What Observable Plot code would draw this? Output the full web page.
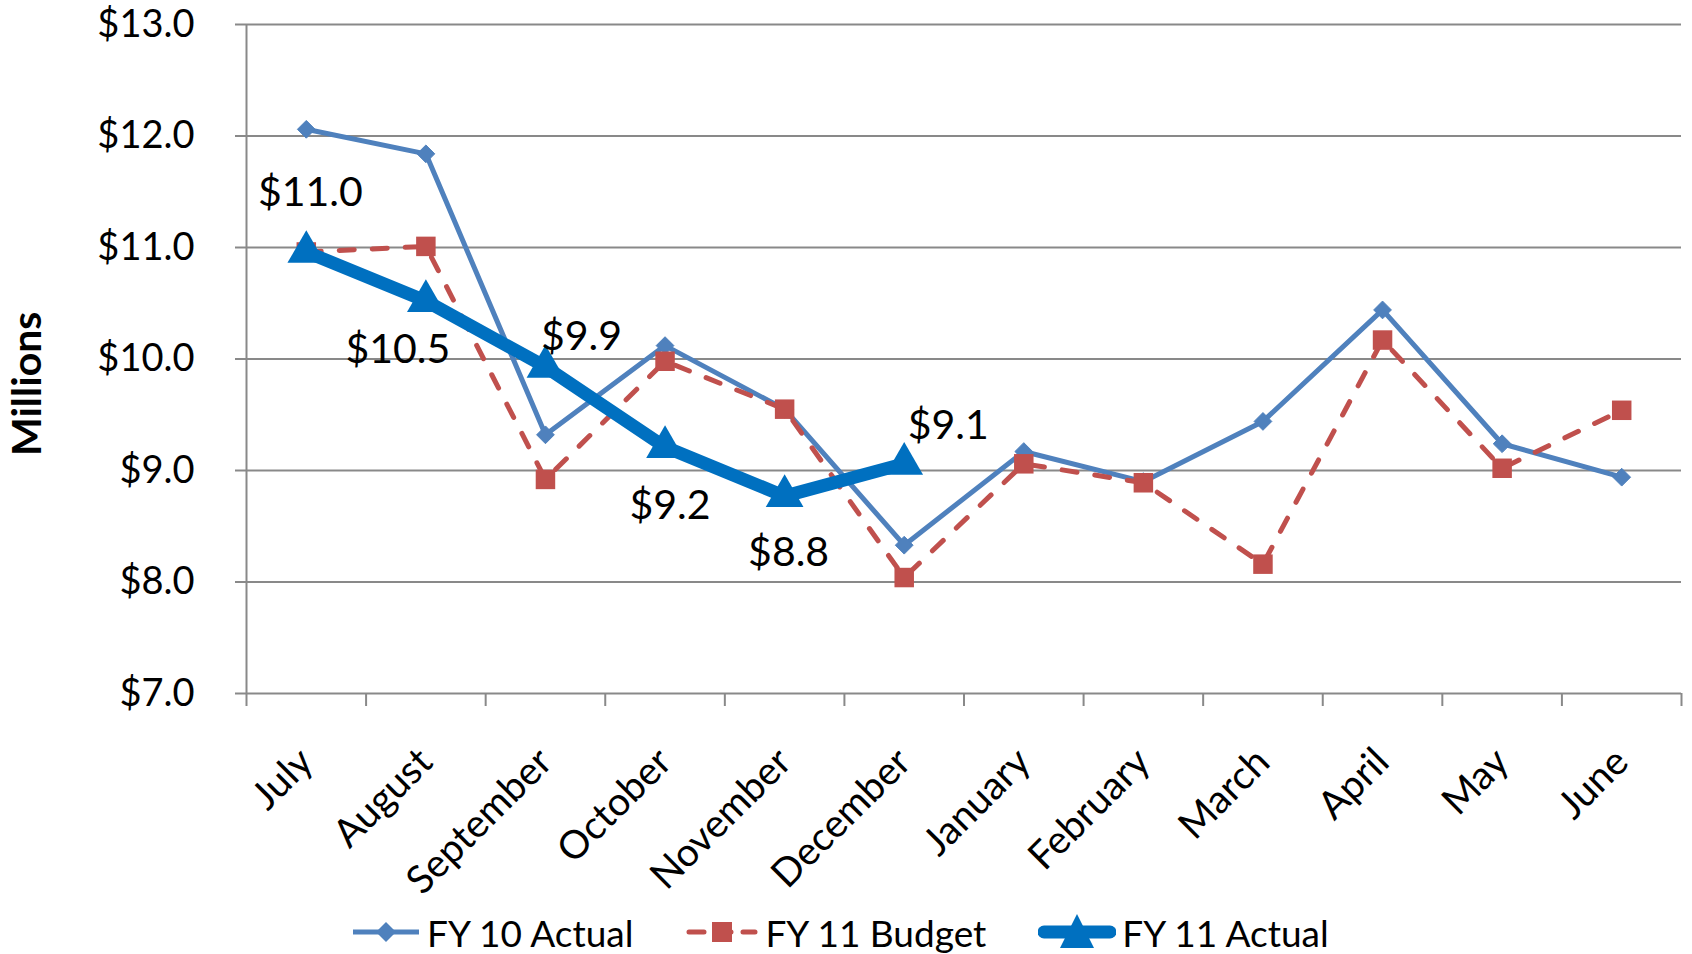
<!DOCTYPE html>
<html><head><meta charset="utf-8">
<script src="https://cdn.jsdelivr.net/npm/d3@7"></script>
<script src="https://cdn.jsdelivr.net/npm/@observablehq/plot@0.6"></script>
<style>
html,body{margin:0;padding:0;background:#fff;}
body{width:1692px;height:954px;overflow:hidden;font-family:Lato,"Open Sans",sans-serif;}
#chart svg{overflow:visible;}
#legend{display:flex;align-items:center;height:44px;padding-left:351px;font-size:37px;color:#000;}
#legend .item{display:flex;align-items:center;margin-right:52px;}
#legend svg{display:block;margin-right:6px;}
</style></head>
<body><div id="chart"></div><div id="legend"></div>
<script>
const months = ["July","August","September","October","November","December","January","February","March","April","May","June"];
const fy10Actual = [12.06, 11.84, 9.32, 10.12, 9.55, 8.33, 9.17, 8.90, 9.44, 10.44, 9.24, 8.94];
const fy11Budget = [10.96, 11.01, 8.92, 9.98, 9.55, 8.04, 9.06, 8.89, 8.16, 10.17, 9.02, 9.54];
const fy11Actual = [10.96, 10.52, 9.93, 9.21, 8.77, 9.06];
const yTicks = [7, 8, 9, 10, 11, 12, 13];
const seriesNames = ["FY 10 Actual", "FY 11 Budget", "FY 11 Actual"];
const seriesColors = ["#4F81BD", "#C0504D", "#0070C0"];

// label offsets (layout only)
const labelOffsets = [[4,-59],[-28,49],[36,-30],[5,59],[4,57],[44,-38]];

const rows10 = fy10Actual.map((v,i)=>({i, month: months[i], v}));
const rowsB = fy11Budget.map((v,i)=>({i, month: months[i], v}));
const rowsA = fy11Actual.map((v,i)=>({i, month: months[i], v}));
const bounds = d3.range(months.length + 1).map(k => k - 0.5);
const fmt = v => "$" + v.toFixed(1);
const grid = "#898989";

const labelMarks = rowsA.map((r,k) => Plot.text([r], {
  x: "i", y: "v", text: d => fmt(d.v), dx: labelOffsets[k][0], dy: labelOffsets[k][1],
  fontSize: 41, fill: "#000"
}));

const chart = Plot.plot({
  width: 1692, height: 910,
  marginLeft: 246, marginRight: 11, marginTop: 24, marginBottom: 217,
  style: {fontFamily: "Lato, 'Open Sans', sans-serif", fontSize: "38px", color: "#000", background: "#fff"},
  x: {type: "linear", domain: [-0.5, months.length - 0.5]},
  y: {domain: [7, 13]},
  marks: [
    Plot.ruleY(yTicks, {stroke: grid, strokeWidth: 2}),
    Plot.axisY({ticks: yTicks, tickFormat: fmt, tickSize: 11, tickPadding: 41, stroke: grid, strokeWidth: 2, strokeOpacity: 1, label: null, fontSize: 38}),
    Plot.ruleX([-0.5], {stroke: grid, strokeWidth: 2}),
    Plot.axisX({ticks: bounds, tickSize: 13, tickFormat: () => "", stroke: grid, strokeWidth: 2, strokeOpacity: 1, label: null}),
    Plot.axisX({ticks: d3.range(months.length), tickSize: 0, tickFormat: i => months[i], tickRotate: -45, tickPadding: 62, label: null, fontSize: 39}),
    Plot.text(["Millions"], {frameAnchor: "left", dx: -219, dy: 97, rotate: -90, fontWeight: "bold", fontSize: 41, fill: "#000"}),
    Plot.line(rows10, {x: "i", y: "v", stroke: seriesColors[0], strokeWidth: 5}),
    Plot.dot(rows10, {x: "i", y: "v", symbol: "diamond2", fill: seriesColors[0], stroke: seriesColors[0], strokeWidth: 1, r: 8}),
    Plot.line(rowsB, {x: "i", y: "v", stroke: seriesColors[1], strokeWidth: 5, strokeDasharray: "15,18", strokeLinecap: "round"}),
    Plot.dot(rowsB, {x: "i", y: "v", symbol: "square", fill: seriesColors[1], stroke: "none", r: 11}),
    Plot.line(rowsA, {x: "i", y: "v", stroke: seriesColors[2], strokeWidth: 13}),
    Plot.dot(rowsA, {x: "i", y: "v", symbol: "triangle", fill: seriesColors[2], stroke: "none", r: 14}),
    ...labelMarks
  ]
});
document.getElementById("chart").appendChild(chart);

// legend
const legend = document.getElementById("legend");
const swatches = [
  (c) => `<svg width="70" height="40"><line x1="2" x2="68" y1="20" y2="20" stroke="${c}" stroke-width="5"/><path d="M35 10 L45 20 L35 30 L25 20 Z" fill="${c}"/></svg>`,
  (c) => `<svg width="74" height="40"><line x1="4" x2="70" y1="20" y2="20" stroke="${c}" stroke-width="5" stroke-dasharray="15,12" stroke-linecap="round"/><rect x="27" y="10" width="20" height="20" fill="${c}"/></svg>`,
  (c) => `<svg width="78" height="40"><line x1="6" x2="72" y1="20" y2="20" stroke="${c}" stroke-width="13" stroke-linecap="round"/><path d="M39 2 L56 36 L22 36 Z" fill="${c}"/></svg>`
];
seriesNames.forEach((name, k) => {
  const it = document.createElement("div");
  it.className = "item";
  it.innerHTML = swatches[k](seriesColors[k]) + `<span>${name}</span>`;
  legend.appendChild(it);
});
</script>
</body></html>
